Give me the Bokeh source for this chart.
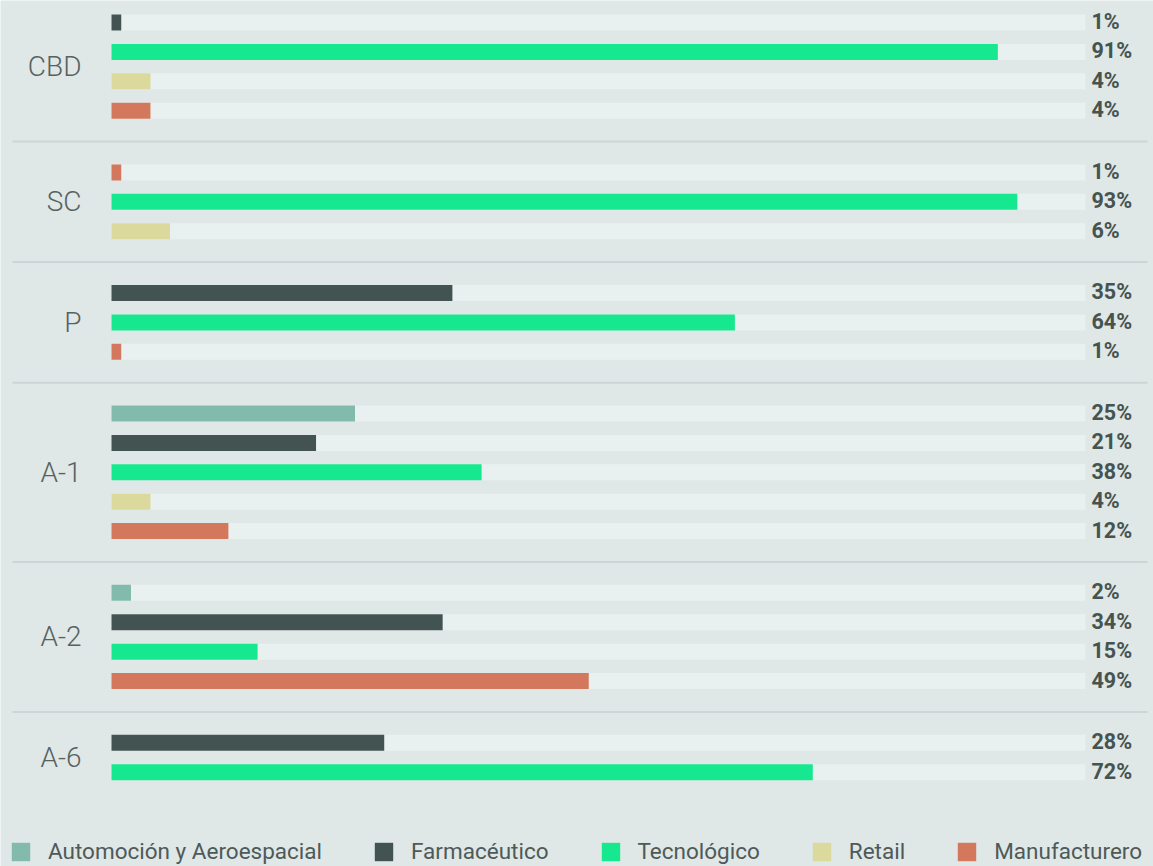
from bokeh.plotting import figure
from bokeh.models import Range1d, ColumnDataSource, Legend, LegendItem
from bokeh.core.properties import value
from bokeh.embed import file_html
from bokeh.resources import INLINE

# ---------------- data ----------------
groups = ["CBD", "SC", "P", "A-1", "A-2", "A-6"]
categories = ["Automoción y Aeroespacial", "Farmacéutico", "Tecnológico", "Retail", "Manufacturero"]
colors = ["#82bbab", "#435352", "#16e88f", "#dbd99c", "#d3785c"]

cbd_cats = ["Farmacéutico", "Tecnológico", "Retail", "Manufacturero"]
cbd_vals = [1, 91, 4, 4]
sc_cats = ["Manufacturero", "Tecnológico", "Retail"]
sc_vals = [1, 93, 6]
p_cats = ["Farmacéutico", "Tecnológico", "Manufacturero"]
p_vals = [35, 64, 1]
a1_cats = ["Automoción y Aeroespacial", "Farmacéutico", "Tecnológico", "Retail", "Manufacturero"]
a1_vals = [25, 21, 38, 4, 12]
a2_cats = ["Automoción y Aeroespacial", "Farmacéutico", "Tecnológico", "Manufacturero"]
a2_vals = [2, 34, 15, 49]
a6_cats = ["Farmacéutico", "Tecnológico"]
a6_vals = [28, 72]

group_cats = [cbd_cats, sc_cats, p_cats, a1_cats, a2_cats, a6_cats]
group_vals = [cbd_vals, sc_vals, p_vals, a1_vals, a2_vals, a6_vals]

# ---------------- layout ----------------
W, H = 1153, 866
ROW = 29.4          # px per row unit
PX = 9.74           # px per percent
LEFT = 111          # px where 0% sits
TOP = 22            # px where first row sits
GAP = 2.1           # row units between groups
BAR_H = 16 / ROW

BG = "#dfe7e7"
TRACK = "#e9f0f0"
SEP = "#cdd5d6"
TXT = "#46534f"

rows_y, rows_cat, rows_val = [], [], []
group_center, group_first, group_last = [], [], []
pos = 0.0
for cats, vals in zip(group_cats, group_vals):
    first = pos
    for c, v in zip(cats, vals):
        rows_y.append(pos)
        rows_cat.append(c)
        rows_val.append(v)
        pos += 1
    last = pos - 1
    group_first.append(first)
    group_last.append(last)
    group_center.append((first + last) / 2)
    pos = last + GAP
seps = [(group_last[i] + group_first[i + 1]) / 2 for i in range(len(groups) - 1)]

p = figure(width=W, height=H,
           x_range=Range1d(-LEFT / PX, (W - LEFT) / PX),
           y_range=Range1d((H - TOP) / ROW, -TOP / ROW),
           output_backend="svg", toolbar_location=None,
           x_axis_type=None, y_axis_type=None, min_border=0,
           background_fill_color=BG, border_fill_color=BG,
           outline_line_color=None)
p.grid.visible = False

# separators
p.segment(x0=[(12 - LEFT) / PX] * len(seps), x1=[(1147 - LEFT) / PX] * len(seps),
          y0=seps, y1=seps, line_width=2, line_color=SEP)

# tracks
p.hbar(y=rows_y, left=0, right=100, height=BAR_H, fill_color=TRACK, line_color=None)

# bars per category
items = []
for cat, col in zip(categories, colors):
    ys = [y for y, c in zip(rows_y, rows_cat) if c == cat]
    vs = [v for v, c in zip(rows_val, rows_cat) if c == cat]
    src = ColumnDataSource(dict(y=ys, v=vs))
    r = p.hbar(y="y", left=0, right="v", height=BAR_H, fill_color=col,
               line_color=None, source=src)
    items.append(LegendItem(label=cat, renderers=[r]))

# value labels
p.text(x=[100] * len(rows_y), y=rows_y, text=[f"{v}%" for v in rows_val],
       x_offset=6, y_offset=-1, text_align="left", text_baseline="middle",
       text_font=value("Roboto"), text_font_style="bold", text_font_size="21.5px",
       text_color=TXT)

# group labels
p.text(x=[0] * len(groups), y=group_center, text=groups,
       x_offset=-30, y_offset=0, text_align="right", text_baseline="middle",
       text_font=value("Roboto Light"), text_font_style="normal", text_font_size="28px",
       text_color="#56625f")

legend = Legend(items=items, orientation="horizontal", location=(9, 2),
                glyph_width=23, glyph_height=23, label_standoff=16, spacing=50,
                padding=0, margin=0, label_text_font="Roboto",
                label_text_font_size="22.5px", label_text_color="#4e5a58",
                background_fill_alpha=0, border_line_color=None)
p.add_layout(legend)

open("out.html", "w").write(file_html(p, INLINE))
